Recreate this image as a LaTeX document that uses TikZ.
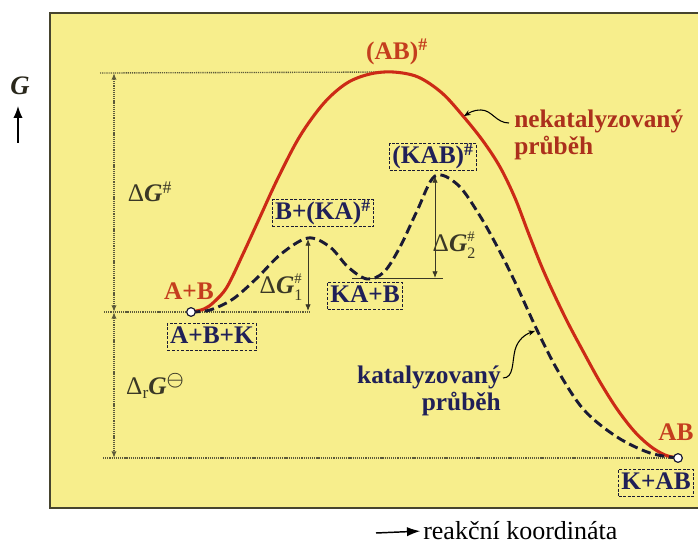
\documentclass[tikz,border=0pt]{standalone}
\usepackage{fontspec}
\setmainfont{Liberation Serif}
\usetikzlibrary{arrows.meta}
\definecolor{panel}{RGB}{247,238,140}
\definecolor{frame}{RGB}{70,68,46}
\definecolor{dots}{RGB}{92,90,58}
\definecolor{redc}{RGB}{204,42,22}
\definecolor{redt}{RGB}{196,62,30}
\definecolor{darkred}{RGB}{172,48,28}
\definecolor{navy}{RGB}{32,32,88}
\definecolor{dashc}{RGB}{26,26,52}
\definecolor{olive}{RGB}{58,56,38}
\tikzset{
  lbl/.style={font=\bfseries\fontsize{19}{20}\selectfont, inner sep=0pt},
  box/.style={draw=dashc, dash pattern=on 2.2pt off 1.2pt, line width=0.8pt, fill=panel,
    inner xsep=2pt, inner ysep=1.5pt, text height=13.5pt, text depth=3.5pt,
    text=navy, font=\bfseries\fontsize{19}{20}\selectfont},
  refline/.style={dots, line width=1pt, dash pattern=on 0.9pt off 0.7pt},
  thinline/.style={olive, line width=0.6pt},
  dim/.style={{Latex[length=5pt,width=4pt]}-{Latex[length=5pt,width=4pt]}},
  circ/.style={circle, draw=dashc, fill=white, line width=0.9pt, minimum size=6.5pt, inner sep=0pt},
  redcurve/.style={redc, line width=2.3pt},
  catcurve/.style={dashc, line width=2.2pt, dash pattern=on 7pt off 3.5pt},
  leader/.style={black, line width=0.8pt, -{Stealth[length=5pt,width=4pt]}},
  dlabel/.style={olive, font=\fontsize{19}{20}\selectfont, inner sep=0pt}
}
\newcommand{\bG}{\textbf{\textit{G}}}
\newcommand{\supsub}[2]{\rlap{\raisebox{8pt}{\fontsize{11}{11}\selectfont #1}}\raisebox{-5pt}{\fontsize{12}{12}\selectfont #2}}
\begin{document}
\begin{tikzpicture}[x=0.75pt,y=-0.75pt]
\useasboundingbox (0,0) rectangle (698,548);
\fill[white] (0,0) rectangle (698,548);
% panel
\fill[panel] (50,13) rectangle (698,508);
\draw[frame, line width=1.6pt] (698,13) -- (50,13) -- (50,508) -- (698,508);

% key coordinates
\coordinate (topL) at (100,73);
\coordinate (peakR) at (393,72);
\coordinate (midL) at (104,312);
\coordinate (midR) at (309,312);
\coordinate (botL) at (103,458);
\coordinate (botR) at (672,458);
\coordinate (dimTop) at (114,73);
\coordinate (dimMid) at (114,312);
\coordinate (dimBot) at (114,458);
\coordinate (p1) at (308,239);
\coordinate (p1b) at (308,311);
\coordinate (p2) at (435,176);
\coordinate (p2b) at (435,278);
\coordinate (valL) at (352,278);
\coordinate (valR) at (443,278);

% reference lines
\draw[refline] (topL) -- (peakR);
\draw[refline] (midL) -- (midR);
\draw[refline] (botL) -- (botR);
\draw[refline, dim] (dimTop) -- (dimMid);
\draw[refline, dim] (dimMid) -- (dimBot);
\draw[thinline] (valL) -- (valR);
\draw[thinline, dim] (p1) -- (p1b);
\draw[thinline, dim] (p2) -- (p2b);

% uncatalysed curve
\draw[redcurve] plot[smooth, tension=0.55] coordinates {
 (191,312) (204,309) (214,302) (227,287) (243,254) (260,217) (278,178) (300,136)
 (324,103) (347,83) (370,74) (393,72) (418,77) (442,93) (463,116) (483,141)
 (500,167) (515,198) (528,232) (541,265) (553,292) (568,323) (584,353) (600,382)
 (617,409) (634,431) (650,446) (665,455) (678,458)};

% catalysed curve
\draw[catcurve] plot[smooth, tension=0.55] coordinates {
 (191,312) (210,310) (233,299) (257,278) (281,254) (308,238) (330,247) (348,267)
 (367,279) (384,272) (400,247) (417,211) (435,176) (458,185) (480,216) (499,250)
 (515,282) (537,330) (558,371) (584,410) (617,437) (650,453) (678,458)};

% end points
\node[circ] (start) at (191,312) {};
\node[circ] (end) at (678,458) {};

% G axis
\node[font=\bfseries\itshape\fontsize{20}{20}\selectfont, text=olive!70!black, inner sep=0pt] (G) at (20,86) {G};
\coordinate (ga) at (18,143);
\coordinate (gb) at (18,106);
\draw[black, line width=1.1pt, -{Latex[length=9pt,width=7pt]}] (ga) -- (gb);

% reaction coordinate
\node[font=\fontsize{19.5}{20}\selectfont, anchor=west, inner sep=0pt] (rk) at (423,531) {reakční koordináta};
\coordinate (ra) at (376,533);
\draw[black, line width=1.1pt, -{Latex[length=10pt,width=7pt]}, shorten >=2pt] (ra) -- (rk.west);

% red labels
\node[lbl, text=redt] (AB2) at (397,52) {(AB)\textsuperscript{\#}};
\node[lbl, text=redt] (AplusB) at (189,291) {A+B};
\node[lbl, text=redt] (ABend) at (676,432) {AB};
\node[lbl, text=darkred, align=left, anchor=north west] (nek) at (514,110) {nekatalyzovaný\\průběh};

% navy labels
\node[lbl, text=navy, align=right, anchor=north east] (kat) at (501,366) {katalyzovaný\\průběh};

% boxes
\node[box] (ABK) at (212,337) {A+B+K};
\node[box] (BKA) at (323,213) {B+(KA)\textsuperscript{\#}};
\node[box] (KAB1) at (365,296) {KA+B};
\node[box] (KAB) at (433,157) {(KAB)\textsuperscript{\#}};
\node[box] (KAB2) at (656,483) {K+AB};

% Delta labels
\node[dlabel] (dG) at (150,192) {Δ\bG\textsuperscript{\#}};
\node[dlabel] (dG1) at (281,287) {Δ\bG\supsub{\#}{1}};
\node[dlabel] (dG2) at (454,245) {Δ\bG\supsub{\#}{2}};
\node[dlabel] (dGr) at (155,386) {Δ\raisebox{-3pt}{\fontsize{13}{13}\selectfont r}\bG\raisebox{7pt}{\boldmath$\scriptstyle\ominus$}};

% leaders
\coordinate (nekStart) at (509,123);
\coordinate (katStart) at (503,378);
\coordinate (nekTip) at (464,116);
\coordinate (katTip) at (535,331);
\draw[leader] (nekStart) .. controls (496,123) and (492,110) .. (481,110) .. controls (473,110) and (469,113) .. (nekTip);
\draw[leader] (katStart) .. controls (514,378) and (512,362) .. (515,350) .. controls (518,339) and (526,334) .. (katTip);
\end{tikzpicture}
\end{document}
